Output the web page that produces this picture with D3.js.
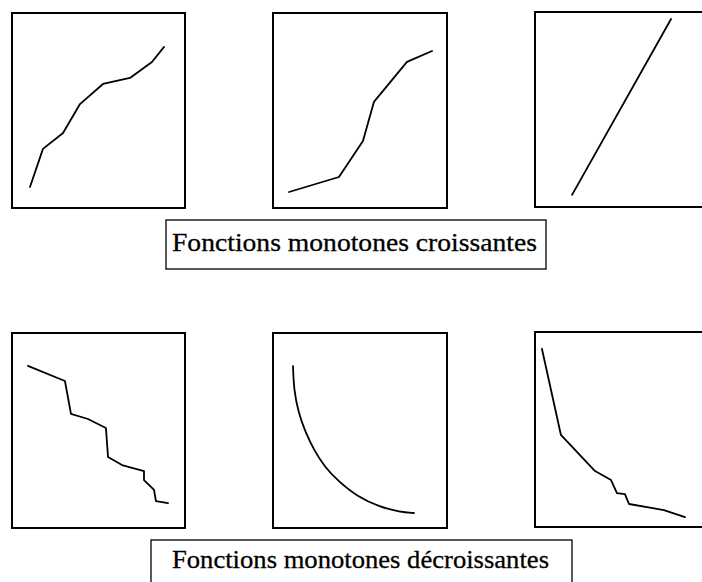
<!DOCTYPE html>
<html>
<head>
<meta charset="utf-8">
<script src="https://cdn.jsdelivr.net/npm/d3@7"></script>
<style>
html,body{margin:0;padding:0;background:#fff;}
svg{display:block;}
</style>
</head>
<body>
<svg id="chart" width="702" height="582"></svg>
<script>
// ---- data (unit coordinates inside each panel, 0..10 both axes) ----
const croissante1 = [[1.04,1.08],[1.79,3.03],[2.95,3.85],[3.93,5.33],[5.26,6.36],[6.82,6.67],[8.09,7.49],[8.79,8.26]];
const croissante2 = [[0.92,0.82],[3.79,1.59],[5.17,3.44],[5.80,5.44],[7.70,7.49],[9.14,8.05]];
const croissante3 = [[2.13,0.62],[7.82,9.64]];
const decroissante1 = [[0.92,8.31],[3.06,7.54],[3.41,5.85],[4.39,5.59],[5.43,5.13],[5.55,3.64],[6.36,3.23],[7.63,2.92],[7.63,2.46],[8.21,1.95],[8.32,1.38],[9.02,1.28]];
const decroissante2 = [[1.15,8.30],[1.20,7.10],[1.45,5.95],[1.85,4.95],[2.35,4.00],[3.00,3.10],[3.70,2.45],[4.85,1.60],[6.15,1.08],[7.30,0.82],[8.10,0.77]];
const decroissante3 = [[0.40,9.13],[1.49,4.72],[3.45,2.87],[4.37,2.41],[4.71,1.74],[5.17,1.69],[5.40,1.18],[7.41,0.87],[8.62,0.51]];
const labels = ["Fonctions monotones croissantes", "Fonctions monotones décroissantes"];

// ---- layout ----
const panels = [
  {data: croissante1, x: 12, y: 13, w: 173, h: 195, curve: d3.curveLinear},
  {data: croissante2, x: 273, y: 13, w: 174, h: 195, curve: d3.curveLinear},
  {data: croissante3, x: 535, y: 12, w: 174, h: 195, curve: d3.curveLinear},
  {data: decroissante1, x: 12, y: 333, w: 173, h: 195, curve: d3.curveLinear},
  {data: decroissante2, x: 273, y: 333, w: 174, h: 195, curve: d3.curveBasis},
  {data: decroissante3, x: 535, y: 332, w: 174, h: 195, curve: d3.curveLinear}
];
const labelBoxes = [
  {text: labels[0], x: 166, y: 220, w: 380, h: 49, tx: 172, ty: 251, tl: 365},
  {text: labels[1], x: 151, y: 540, w: 421, h: 60, tx: 172, ty: 568, tl: 377}
];

const svg = d3.select("#chart");

panels.forEach(p => {
  const xs = d3.scaleLinear().domain([0, 10]).range([p.x, p.x + p.w]);
  const ys = d3.scaleLinear().domain([0, 10]).range([p.y + p.h, p.y]);
  svg.append("rect")
    .attr("x", p.x).attr("y", p.y).attr("width", p.w).attr("height", p.h)
    .attr("fill", "none").attr("stroke", "#000").attr("stroke-width", 2);
  const line = d3.line().x(d => xs(d[0])).y(d => ys(d[1])).curve(p.curve);
  svg.append("path")
    .datum(p.data)
    .attr("d", line)
    .attr("fill", "none").attr("stroke", "#000").attr("stroke-width", 1.8)
    .attr("stroke-linejoin", "round").attr("stroke-linecap", "round");
});

labelBoxes.forEach(b => {
  svg.append("rect")
    .attr("x", b.x).attr("y", b.y).attr("width", b.w).attr("height", b.h)
    .attr("fill", "none").attr("stroke", "#000").attr("stroke-width", 1.3);
  svg.append("text")
    .attr("x", b.tx).attr("y", b.ty)
    .attr("font-family", "'Liberation Serif', 'Times New Roman', serif")
    .attr("font-size", 26)
    .attr("textLength", b.tl)
    .attr("lengthAdjust", "spacingAndGlyphs")
    .attr("fill", "#000")
    .attr("stroke", "#000").attr("stroke-width", 0.3)
    .text(b.text);
});
</script>
</body>
</html>
